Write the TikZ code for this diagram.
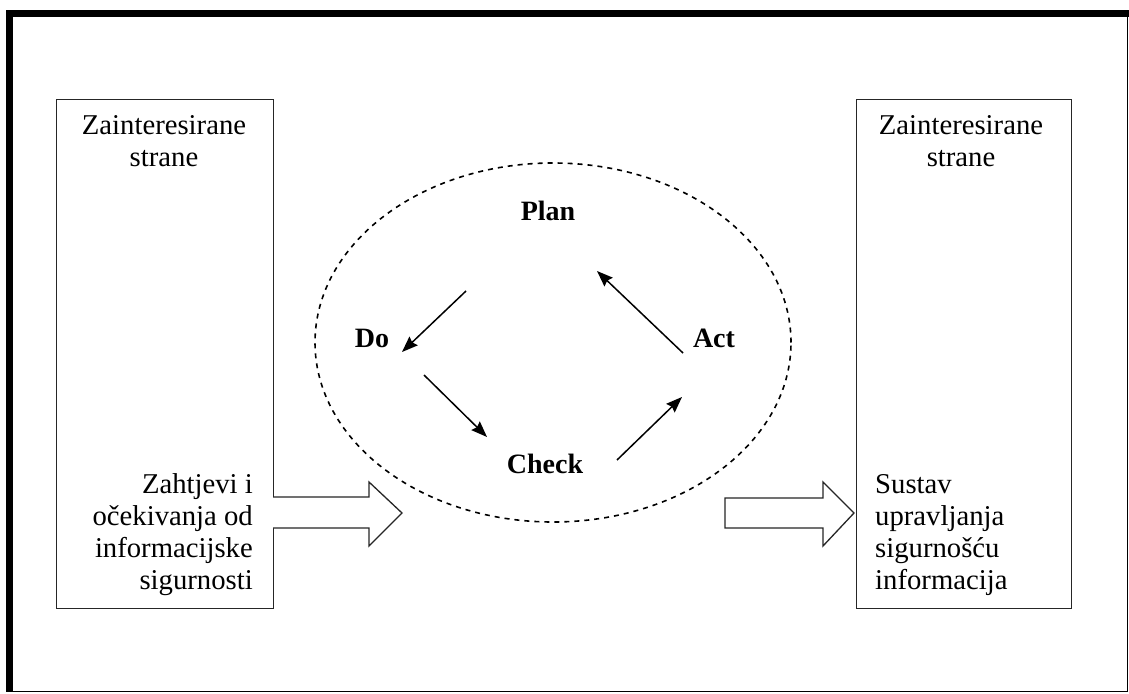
\documentclass[tikz,border=0pt]{standalone}
\usepackage{fontspec}
\setmainfont{Liberation Serif}
\usetikzlibrary{arrows.meta,shapes.geometric}
\begin{document}
\begin{tikzpicture}[x=1pt,y=-1pt,
  box/.style={draw=black!85, line width=1.3pt, inner sep=0pt},
  lbl/.style={font=\fontsize{28.7}{32}\selectfont, inner sep=0pt},
  pdca/.style={font=\fontsize{28}{32}\selectfont\bfseries, inner sep=0pt},
  cyc/.style={-{Stealth[length=16pt,width=12pt,inset=2pt]}, line width=1.5pt},
  fat/.style={draw=black!85, line width=1.3pt, fill=white, line join=miter},
  cycle/.style={draw, ellipse, line width=1.6pt, dash pattern=on 5pt off 5pt, inner sep=0pt}]
\useasboundingbox (0,0) rectangle (1129,693);
\fill[white] (0,0) rectangle (1129,693);
% frame
\draw[line width=1.5pt] (6.75,10.75) rectangle (1127.25,691.25);
\fill (6,10) rectangle (1129,17);
\fill (6,10) rectangle (13,692);
% boxes
\node[box, minimum width=217pt, minimum height=509pt, anchor=north west] (L) at (56,99) {};
\node[box, minimum width=215pt, minimum height=509pt, anchor=north west] (R) at (856,99) {};
\node[lbl, align=center, anchor=base] (Lt) at (164,166) {Zainteresirane\\strane};
\node[lbl, align=center, anchor=base] (Rt) at (961,166) {Zainteresirane\\strane};
\node[lbl, align=right, anchor=base east] (Lb) at (253,589) {Zahtjevi i\\očekivanja od\\informacijske\\sigurnosti};
\node[lbl, align=left, anchor=base west] (Rb) at (875,589) {Sustav\\upravljanja\\sigurnošću\\informacija};
% cycle
\node[cycle, minimum width=476pt, minimum height=359pt] (E) at (553,342.5) {};
\node[pdca, anchor=base] (P) at (548,220) {Plan};
\node[pdca, anchor=base] (D) at (372,347) {Do};
\node[pdca, anchor=base] (A) at (714,347) {Act};
\node[pdca, anchor=base] (C) at (545,473) {Check};
\coordinate (pd1) at (466,291); \coordinate (pd2) at (402,352);
\coordinate (dc1) at (424,375); \coordinate (dc2) at (487,437);
\coordinate (ca1) at (617,460); \coordinate (ca2) at (682,397);
\coordinate (ap1) at (683,353); \coordinate (ap2) at (597,271);
\draw[cyc] (pd1) -- (pd2);
\draw[cyc] (dc1) -- (dc2);
\draw[cyc] (ca1) -- (ca2);
\draw[cyc] (ap1) -- (ap2);
% big arrows
\draw[fat] (273,497) -- (369,497) -- (369,482) -- (402,513) -- (369,546) -- (369,528) -- (273,528);
\draw[fat] (725,498) -- (823,498) -- (823,482) -- (854,513) -- (823,546) -- (823,528) -- (725,528) -- cycle;
\end{tikzpicture}
\end{document}
